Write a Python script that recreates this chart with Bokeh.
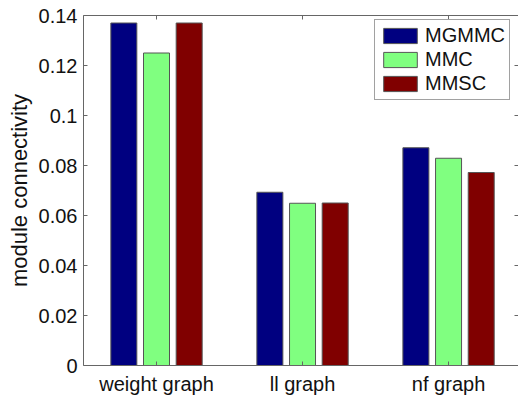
from bokeh.plotting import figure
from bokeh.models import ColumnDataSource, LinearAxis, FixedTicker, Range1d, Legend, LegendItem
from bokeh.transform import dodge
from bokeh.embed import file_html
from bokeh.resources import INLINE

categories = ["weight graph", "ll graph", "nf graph"]
cat_pos = [1, 2, 3]
mgmmc = [0.137, 0.0693, 0.0871]
mmc = [0.125, 0.0649, 0.0829]
mmsc = [0.137, 0.065, 0.0772]
series_names = ["MGMMC", "MMC", "MMSC"]
colors = ["#000080", "#80ff80", "#800000"]
y_ticks = [0, 0.02, 0.04, 0.06, 0.08, 0.1, 0.12, 0.14]
y_tick_labels = ["0", "0.02", "0.04", "0.06", "0.08", "0.1", "0.12", "0.14"]

src = ColumnDataSource(dict(x=cat_pos, MGMMC=mgmmc, MMC=mmc, MMSC=mmsc))

FONT = "Liberation Sans"
AX = "#666666"

p = figure(width=518, height=398, output_backend="svg", toolbar_location=None,
           x_range=Range1d(0.5, 3.479), y_range=Range1d(0, 0.14),
           min_border_left=83, min_border_right=0, min_border_top=15, min_border_bottom=33,
           x_axis_location=None, y_axis_location=None)
p.outline_line_color = None
p.xgrid.visible = False
p.ygrid.visible = False
p.background_fill_color = "white"
p.border_fill_color = "white"

offsets = [-0.2237, 0.0, 0.2237]
bw = 0.178
items = []
for name, col, off in zip(series_names, colors, offsets):
    r = p.vbar(x=dodge("x", off, range=p.x_range), top=name, width=bw, bottom=0,
               source=src, fill_color=col, line_color="#555555", line_width=1)
    items.append(LegendItem(label=name, renderers=[r]))

# left axis
yl = LinearAxis(ticker=FixedTicker(ticks=y_ticks),
                major_label_overrides=dict(zip(y_ticks, y_tick_labels)),
                axis_label="module connectivity")
# bottom axis
xb = LinearAxis(ticker=FixedTicker(ticks=cat_pos),
                major_label_overrides=dict(zip(cat_pos, categories)))
# top and right axes (ticks only, no labels)
xt = LinearAxis(ticker=FixedTicker(ticks=cat_pos),
                major_label_overrides={t: "" for t in cat_pos},
                major_label_text_font_size="1px", major_label_standoff=0)
yr = LinearAxis(ticker=FixedTicker(ticks=y_ticks),
                major_label_overrides={t: "" for t in y_ticks},
                major_label_text_font_size="1px", major_label_standoff=0,
                axis_line_color=None)

for ax in (yl, xb, xt, yr):
    ax.major_tick_in = 4
    ax.major_tick_out = 0
    ax.minor_tick_in = 0
    ax.minor_tick_out = 0
    ax.major_tick_line_color = AX
    ax.major_label_text_font = FONT
    ax.major_label_text_color = "#111111"
    ax.axis_label_text_font = FONT
    ax.axis_label_text_font_style = "normal"
    ax.axis_label_text_color = "#111111"
yl.axis_line_color = AX
xb.axis_line_color = AX
xt.axis_line_color = AX
yl.major_label_text_font_size = "20px"
xb.major_label_text_font_size = "20px"
yl.axis_label_text_font_size = "22px"
yl.major_label_standoff = 6
yl.axis_label_standoff = 4
xb.major_label_standoff = 7

p.add_layout(yl, "left")
p.add_layout(xb, "below")
p.add_layout(xt, "above")
p.add_layout(yr, "right")

legend = Legend(items=items, location=(291, 265), orientation="vertical",
                glyph_width=42, glyph_height=19, label_height=19,
                label_text_font=FONT, label_text_font_size="20px",
                label_text_color="#111111", label_standoff=4,
                spacing=1, padding=4, margin=0,
                border_line_color="#444444", border_line_width=1,
                background_fill_color="white", background_fill_alpha=1)
p.add_layout(legend, "center")

open("out.html", "w").write(file_html(p, INLINE))
